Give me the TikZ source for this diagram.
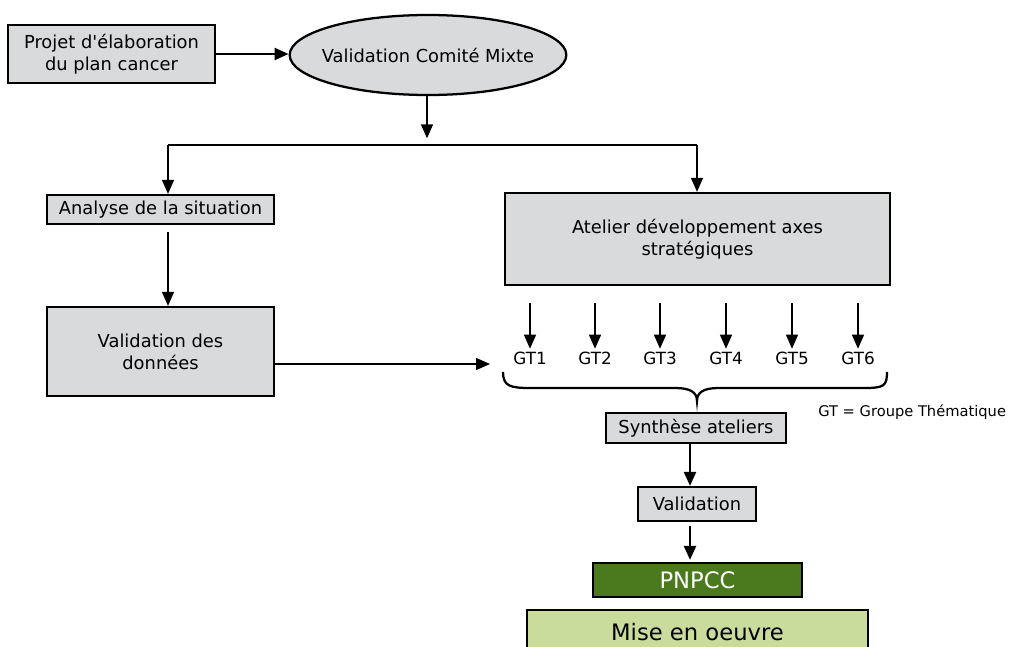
\documentclass[tikz,border=0pt]{standalone}
\usepackage{fontspec}
\setmainfont{DejaVu Sans}[Ligatures=TeXOff]
\usetikzlibrary{arrows.meta,shapes.geometric}
\definecolor{boxgrey}{HTML}{D9DADC}
\definecolor{darkgreen}{HTML}{4B7A1E}
\definecolor{lightgreen}{HTML}{C9DC9C}
\tikzset{
  px/.style={x=0.75pt,y=-0.75pt},
  box/.style={draw=black,line width=1.7pt,fill=boxgrey,inner sep=0pt,align=center,font=\fontsize{13.4}{16.5}\selectfont},
  arr/.style={-{Triangle[length=10.5pt,width=9pt]},line width=1pt},
  tarr/.style={-{Triangle[length=10.5pt,width=9pt]},line width=1.7pt},
  gt/.style={inner sep=2pt,font=\fontsize{12.6}{15}\selectfont},
}
\begin{document}
\begin{tikzpicture}[px]
\useasboundingbox (0,0) rectangle (1017,646);
\node[box,minimum width=155pt,minimum height=43.5pt] (proj) at (111.5,54) {Projet d'élaboration\\du plan cancer};
\node[box,ellipse,inner xsep=-20pt,minimum width=207.5pt,minimum height=60pt] (vcm) at (428,55) {Validation Comité Mixte};
\node[box,minimum width=170pt,minimum height=21.75pt] (ana) at (160.5,209.5) {Analyse de la situation};
\node[box,minimum width=288.75pt,minimum height=69pt] (atel) at (697.5,239) {Atelier développement axes\\stratégiques};
\node[box,minimum width=170pt,minimum height=66.75pt] (vd) at (160.5,351.5) {Validation des\\données};
\node[box,minimum width=135pt,minimum height=22.5pt] (syn) at (696,428) {Synthèse ateliers};
\node[box,minimum width=88.5pt,minimum height=25.5pt] (val) at (697,504) {Validation};
\node[box,fill=darkgreen,text=white,minimum width=156.75pt,minimum height=25.5pt,font=\fontsize{17}{20}\selectfont] (pnpcc) at (697.5,580) {PNPCC};
\node[box,fill=lightgreen,minimum width=255.75pt,minimum height=33pt,font=\fontsize{17}{20}\selectfont] (mise) at (697.5,632) {Mise en oeuvre};

\foreach \i/\x in {1/530,2/595,3/660,4/726,5/792,6/858}{
  \node[gt] (gt\i) at (\x,358) {GT\i};
  \draw[arr] ([yshift=34pt]gt\i.north) -- (gt\i.north);
}
\node[inner sep=0pt,anchor=west,font=\fontsize{11}{13}\selectfont] (note) at (818,412) {GT = Groupe Thématique};

\coordinate (j) at (427,145);
\coordinate (jl) at (168,145);
\coordinate (jr) at (697,145);
\coordinate (gtin) at (490,364);
\coordinate (cx) at (690,0);

\draw[tarr] (proj.east) -- (proj.east -| vcm.west);
\draw[arr,shorten >=5pt] (vcm.south -| j) -- (j);
\draw[line width=1.7pt] (jl) -- (jr);
\draw[arr] (jl) -- (ana.north -| jl);
\draw[arr] (jr) -- (atel.north -| jr);
\draw[arr] ([yshift=-5pt]ana.south -| jl) -- (vd.north -| jl);
\draw[arr] (vd.east |- gtin) -- (gtin);
\draw[tarr] (syn.south -| cx) -- (val.north -| cx);
\draw[tarr] ([yshift=-3pt]val.south -| cx) -- ([yshift=1.5pt]pnpcc.north -| cx);

% brace
\draw[line width=1.7pt] (503,372) .. controls (503,386) and (510,388) .. (530,388)
  -- (675,388) .. controls (690,388) and (697,392) .. (697,401)
  .. controls (697,392) and (704,388) .. (719,388) -- (864,388)
  .. controls (884,388) and (887,386) .. (887,372);
\end{tikzpicture}
\end{document}
